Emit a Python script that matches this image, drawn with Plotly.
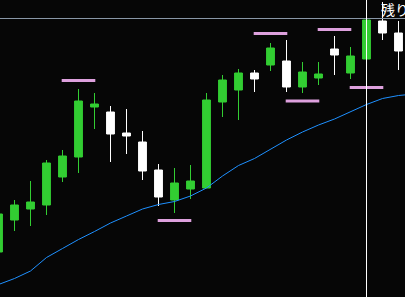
import plotly.graph_objects as go

# Candle data (price units; higher = up). Index 0 is partly off the left edge.
idx = list(range(26))
opens  = [45, 77, 88, 92, 120, 140, 190, 185, 164, 155, 127, 97, 108, 109, 195, 207, 224, 232, 236, 210, 219, 248, 224, 238, 276, 264]
highs  = [87, 97, 116, 137, 147, 208, 204, 191, 188, 166, 133, 129, 132, 204, 222, 228, 227, 254, 257, 235, 235, 261, 250, 281, 295, 276]
lows   = [41, 66, 71, 82, 115, 124, 168, 135, 143, 117, 91, 84, 98, 109, 180, 177, 205, 226, 205, 204, 212, 222, 218, 219, 257, 227]
closes = [83, 92, 95, 134, 141, 196, 193, 163, 161, 126, 100, 114, 116, 197, 217, 224, 218, 249, 210, 225, 223, 242, 241, 277, 264, 246]

# Moving average (one extra value past the last candle)
ma_idx = list(range(27))
ma_vals = [12.5, 18.5, 26, 39.5, 48.5, 57.5, 65.5, 74, 81, 88, 92.5, 95.5, 101, 109, 121, 131.5,
           138.5, 147.5, 157, 165, 172, 178, 185, 192.5, 198.5, 201.5, 203]

# Swing high / low markers: (candle index, level)
swing_idx = [5, 17, 21, 11, 19, 23]
swing_lvl = [216.5, 263.5, 267.5, 76.5, 196, 209.5]

price_line = 278.5
cursor_idx = 23

GREEN = "#32CD32"
WHITE = "#FFFFFF"
BG = "#060606"

fig = go.Figure()

fig.add_trace(go.Scatter(x=ma_idx, y=ma_vals, mode="lines",
                         line=dict(color="#1E90FF", width=1), hoverinfo="skip"))

fig.add_trace(go.Candlestick(
    x=idx, open=opens, high=highs, low=lows, close=closes,
    increasing=dict(fillcolor=GREEN, line=dict(color=GREEN, width=1)),
    decreasing=dict(fillcolor=WHITE, line=dict(color=WHITE, width=1)),
    whiskerwidth=0,
))

sx, sy = [], []
for i, lv in zip(swing_idx, swing_lvl):
    sx += [i - 1.05, i + 1.05, None]
    sy += [lv, lv, None]
fig.add_trace(go.Scatter(x=sx, y=sy, mode="lines",
                         line=dict(color="#DDA0DD", width=3), hoverinfo="skip"))

fig.add_hline(y=price_line, line=dict(color="#8896A6", width=1))
fig.add_vline(x=cursor_idx, line=dict(color=WHITE, width=1))

fig.add_annotation(text="残り時間", xref="paper", yref="paper", x=379/405, y=1,
                   xanchor="left", yanchor="top", yshift=3, showarrow=False,
                   font=dict(color=WHITE, size=14, family="Noto Sans CJK JP"))

fig.update_layout(
    width=405, height=297, margin=dict(l=0, r=0, t=0, b=0),
    paper_bgcolor=BG, plot_bgcolor=BG, showlegend=False,
    xaxis=dict(range=[1.5/16, 406.5/16], visible=False, rangeslider=dict(visible=False), fixedrange=True),
    yaxis=dict(range=[0, 297], visible=False, fixedrange=True),
)

fig.write_html("out.html")
